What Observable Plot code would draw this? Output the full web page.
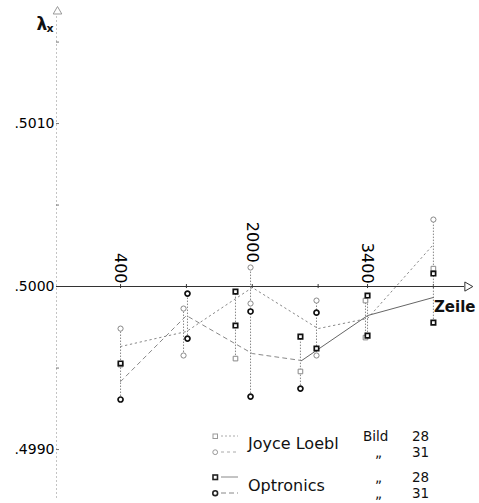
<!DOCTYPE html>
<html>
<head>
<meta charset="utf-8">
<script src="https://cdn.jsdelivr.net/npm/d3@7"></script>
<script src="https://cdn.jsdelivr.net/npm/@observablehq/plot@0.6"></script>
<style>
  html, body { margin: 0; padding: 0; background: #fff; }
  #wrap { position: relative; width: 479px; height: 503px; font-family: "DejaVu Sans", sans-serif; }
  #legend { position: absolute; left: 0; top: 0; width: 479px; height: 503px; pointer-events: none; }
  #legend div { position: absolute; color: #111; white-space: nowrap; line-height: 13px; }
</style>
</head>
<body>
<div id="wrap">
  <div id="chart"></div>
  <div id="legend"></div>
</div>
<script>
// ---- data ----
const yTicks = [0.4990, 0.4995, 0.5000, 0.5005, 0.5010, 0.5015];
const yTickLabels = [".4990", "", ".5000", "", ".5010", ""];
const xTickPositions = [400, 1200, 2000, 2800, 3400, 4200];
const xLabelsLow = [400, 3400];
const xLabelsHigh = [2000];
const xAxisTitle = "Zeile";
const yAxisSymbol = "λ";
const yAxisSub = "x";

// measured points: Zeile, lambda_x, series
const ptZeile  = [400, 400, 400, 400,
                  1165, 1165, 1213, 1213,
                  1796, 1796, 1796, 1979, 1979, 1979, 1979,
                  2585, 2585, 2585, 2780, 2780, 2780, 2780,
                  3375, 3375, 3400, 3400,
                  4200, 4200, 4200, 4200];
const ptLambda = [0.499742, 0.499521, 0.499528, 0.499307,
                  0.499865, 0.499577, 0.499957, 0.499681,
                  0.499969, 0.499761, 0.499558, 0.500117, 0.499896, 0.499847, 0.499325,
                  0.499693, 0.499479, 0.499374, 0.499914, 0.499840, 0.499620, 0.499577,
                  0.499914, 0.499687, 0.499945, 0.499699,
                  0.500411, 0.500110, 0.500080, 0.499779];
const ptSeries = ["JL31", "JL28", "OP28", "OP31",
                  "JL31", "JL31", "OP31", "OP31",
                  "OP28", "OP28", "JL28", "JL31", "JL31", "OP31", "OP31",
                  "OP28", "JL28", "OP31", "JL31", "OP31", "OP28", "JL31",
                  "JL28", "JL28", "OP28", "OP28",
                  "JL31", "JL28", "OP28", "OP28"];

// connecting lines (means)
const lineJLZeile  = [400, 1200, 2000, 2800, 3400, 4200];
const lineJLLambda = [0.499632, 0.499724, 0.499994, 0.499742, 0.499804, 0.500258];
const lineOPZeile  = [400, 1200, 2000, 2600, 3400, 4200];
const lineOPLambda = [0.499417, 0.499822, 0.499589, 0.499546, 0.499822, 0.499933];
const lineOPSolidFrom = 3; // index from which the Optronics line is drawn solid

// legend
const legendNames = ["Joyce Loebl", "Optronics"];
const legendBild = ["Bild", "„", "„", "„"];
const legendNums = ["28", "31", "28", "31"];

// ---- tables ----
const points = ptZeile.map((z, i) => ({zeile: z, lambda: ptLambda[i], series: ptSeries[i]}));
const lineJL = lineJLZeile.map((z, i) => ({zeile: z, lambda: lineJLLambda[i]}));
const lineOP = lineOPZeile.map((z, i) => ({zeile: z, lambda: lineOPLambda[i]}));
const lineOPDashed = lineOP.slice(0, lineOPSolidFrom + 1);
const lineOPSolid = lineOP.slice(lineOPSolidFrom);
const sym = {JL28: "square", JL31: "circle", OP28: "square", OP31: "circle"};
const open = points.filter(d => d.series.startsWith("JL"));
const bold = points.filter(d => d.series.startsWith("OP"));

const plot = Plot.plot({
  width: 479,
  height: 503,
  marginLeft: 56,
  marginRight: 0,
  marginTop: 0,
  marginBottom: 0,
  style: {fontFamily: "DejaVu Sans, sans-serif", background: "transparent"},
  x: {type: "linear", domain: [-378, 4760], axis: null},
  y: {type: "linear", domain: [0.498669, 0.501755], axis: null},
  marks: [
    // y axis line (faint, dotted) with arrow
    Plot.frame({anchor: "left", stroke: "#c4c4c4", strokeDasharray: "1,3", insetTop: 16, insetBottom: 3}),
    Plot.dot([0], {frameAnchor: "top-left", symbol: "triangle", r: 3.2, dx: 1, dy: 11, stroke: "#999", fill: "white", strokeWidth: 1}),
    Plot.axisY({ticks: yTicks, tickFormat: (d) => yTickLabels[yTicks.indexOf(d)], tickSize: 3, dx: 3, tickPadding: 2,
      fontSize: 14, stroke: "#777", color: "#000", label: null}),
    // x axis with arrow
    Plot.ruleY([0.5], {stroke: "#333", strokeWidth: 1.1, insetRight: 15}),
    Plot.dot([0.5], {y: d => d, frameAnchor: "right", symbol: "triangle", rotate: 90, r: 3.4, dx: -12, stroke: "#333", fill: "white", strokeWidth: 1}),
    Plot.ruleX(xTickPositions, {x: d => d, y1: () => 0.5, y2: () => 0.5, stroke: "#333", insetTop: -2, insetBottom: -2}),
    // x tick labels (rotated)
    Plot.text(xLabelsLow, {x: d => d, y: () => 0.5, text: d => String(d), rotate: 90, textAnchor: "end", dy: -3, fontSize: 16, fill: "#000"}),
    Plot.text(xLabelsHigh, {x: d => d, y: () => 0.5, text: d => String(d), rotate: 90, textAnchor: "end", dy: -24, fontSize: 16, fill: "#000"}),
    Plot.text([xAxisTitle], {frameAnchor: "right", y: () => 0.5, dx: -4, dy: 21, textAnchor: "end", fontSize: 15, fontWeight: "bold", fill: "#111"}),
    // y axis title
    Plot.text([yAxisSymbol], {frameAnchor: "top-left", dx: -20, dy: 17, fontSize: 17, fontWeight: "bold", fill: "#111"}),
    Plot.text([yAxisSub], {frameAnchor: "top-left", dx: -10, dy: 24, textAnchor: "start", fontSize: 11, fontWeight: "bold", fill: "#111"}),
    // vertical connectors per sub-column
    Plot.ruleX(points, Plot.groupX({y1: "min", y2: "max"}, {x: "zeile", y1: "lambda", y2: "lambda", stroke: "#888", strokeDasharray: "1.5,1.5", strokeWidth: 1})),
    // mean lines
    Plot.line(lineJL, {x: "zeile", y: "lambda", stroke: "#888", strokeDasharray: "1.5,3.5", strokeWidth: 1}),
    Plot.line(lineOPDashed, {x: "zeile", y: "lambda", stroke: "#888", strokeDasharray: "4,4", strokeWidth: 1}),
    Plot.line(lineOPSolid, {x: "zeile", y: "lambda", stroke: "#666", strokeWidth: 1}),
    // points
    Plot.dot(open, {x: "zeile", y: "lambda", symbol: d => sym[d.series], r: 2.6, stroke: "#888", strokeWidth: 1, fill: "white"}),
    Plot.dot(bold, {x: "zeile", y: "lambda", symbol: d => sym[d.series], r: 2.5, stroke: "#111", strokeWidth: 1.7, fill: "white"})
  ]
});
document.getElementById("chart").appendChild(plot);

// legend (HTML overlay)
const lg = document.getElementById("legend");
const swatchStyles = [
  {sym: "square", stroke: "#999", w: 1, dash: "2,2"},
  {sym: "circle", stroke: "#999", w: 1, dash: "3,3"},
  {sym: "square", stroke: "#222", w: 1.6, dash: null},
  {sym: "circle", stroke: "#222", w: 1.6, dash: "5,3"}
];
const rowTops = [431, 447, 472, 488];
swatchStyles.forEach((s, i) => {
  const svg = `<svg width="32" height="10" style="position:absolute;left:210px;top:${rowTops[i]}px">
    ${s.sym === "square" ? `<rect x="3" y="3" width="4.5" height="4.5" fill="white" stroke="${s.stroke}" stroke-width="${s.w}"/>`
                         : `<circle cx="5.2" cy="5.2" r="2.4" fill="white" stroke="${s.stroke}" stroke-width="${s.w}"/>`}
    <line x1="11" x2="28" y1="5" y2="5" stroke="${i < 2 ? "#aaa" : "#888"}" stroke-width="1" ${s.dash ? `stroke-dasharray="${s.dash}"` : ""}/>
  </svg>`;
  lg.insertAdjacentHTML("beforeend", svg);
});
const nameTops = [437, 479];
legendNames.forEach((n, i) => {
  lg.insertAdjacentHTML("beforeend", `<div style="left:248px;top:${nameTops[i]}px;font-size:16px">${n}</div>`);
});
legendBild.forEach((b, i) => {
  const left = i === 0 ? 363 : 375;
  lg.insertAdjacentHTML("beforeend", `<div style="left:${left}px;top:${rowTops[i] - 1}px;font-size:13.5px">${b}</div>`);
});
legendNums.forEach((n, i) => {
  lg.insertAdjacentHTML("beforeend", `<div style="left:412px;top:${rowTops[i] - 1}px;font-size:13.5px">${n}</div>`);
});
</script>
</body>
</html>
